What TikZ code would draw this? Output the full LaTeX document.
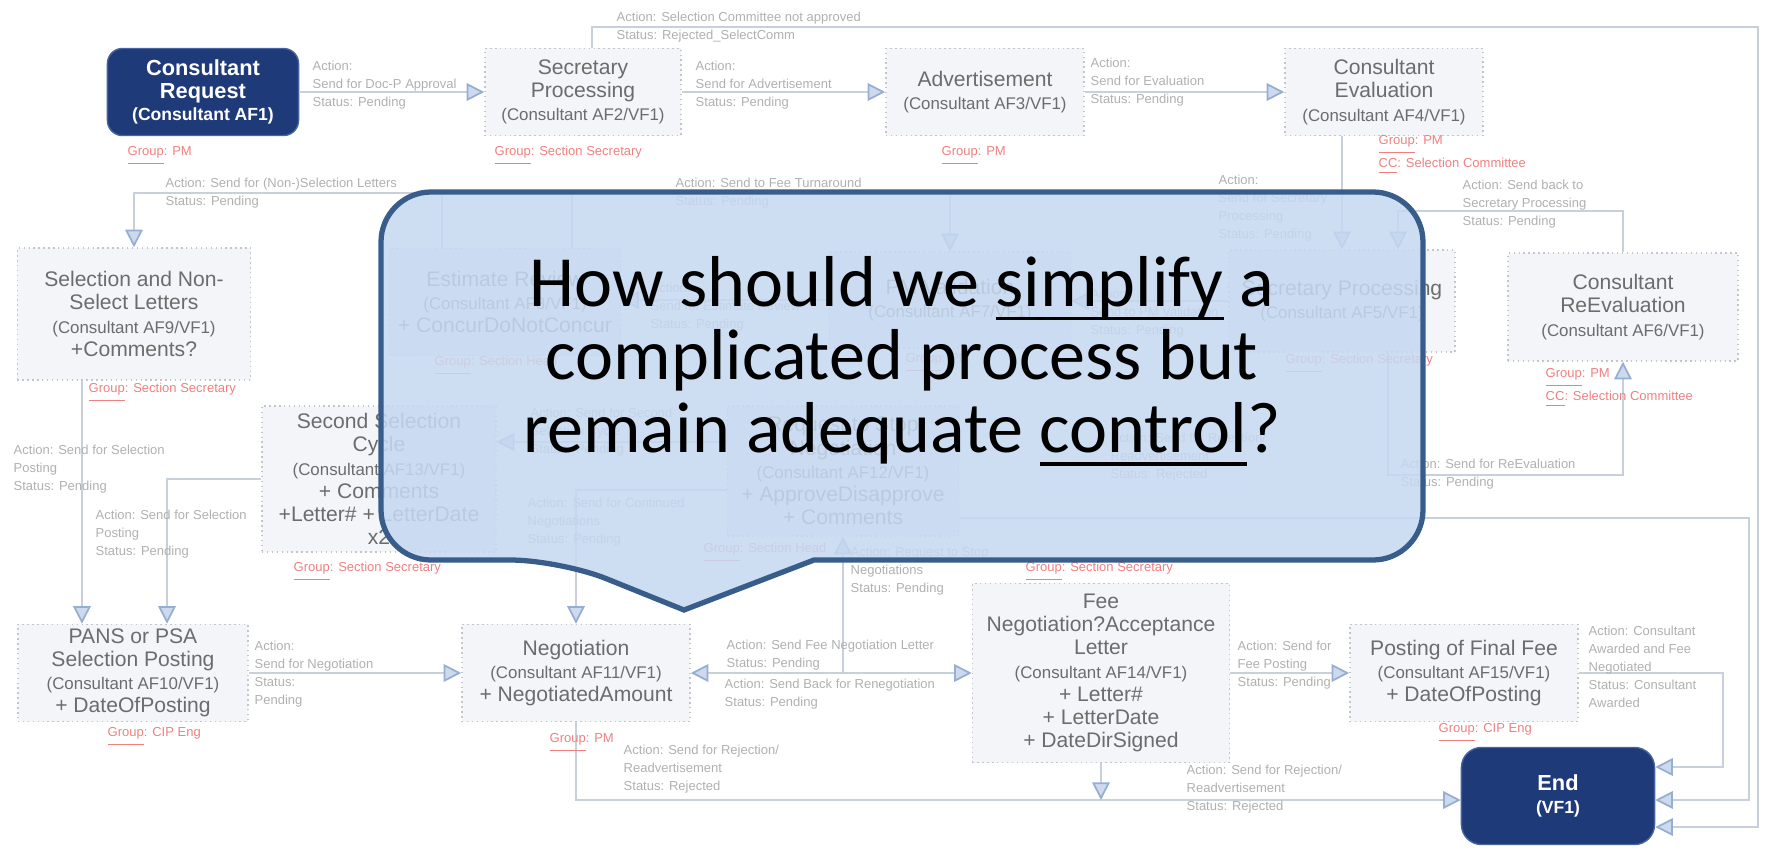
\documentclass[tikz,border=0pt]{standalone}
\usepackage{fontspec}
\setmainfont{Liberation Sans}
\newfontfamily\callfont{Carlito}
\usepackage{xcolor}
\usepackage{tikz}
\usetikzlibrary{arrows.meta}
\definecolor{boxtext}{RGB}{108,108,108}
\definecolor{boxline}{RGB}{196,198,204}
\definecolor{boxfill}{RGB}{243,245,248}
\definecolor{acttext}{RGB}{176,176,176}
\definecolor{grptext}{RGB}{240,128,128}
\definecolor{linecol}{RGB}{200,208,220}
\definecolor{tipcol}{RGB}{150,174,210}
\definecolor{tipfill}{RGB}{205,218,238}
\definecolor{navy}{RGB}{30,58,120}
\definecolor{navyline}{RGB}{70,100,160}
\definecolor{callfill}{RGB}{198,216,240}
\definecolor{callline}{RGB}{56,93,138}
\newcommand{\cons}[1]{{\fontsize{4.8}{6.6}\selectfont(Consultant #1/VF1)}}
\newcommand{\grpof}[1]{\underline{Group}: #1}
\newlength{\undrwd}
\newcommand{\undr}[1]{\settowidth{\undrwd}{#1}\rlap{\rule[-3.8pt]{\undrwd}{0.9pt}}#1}

\begin{document}
\begin{tikzpicture}[x=0.01cm,y=-0.01cm]
\tikzset{
  box/.style={draw=boxline, densely dotted, fill=boxfill, text=boxtext, align=center,
    inner sep=1pt, font=\fontsize{6}{6.6}\selectfont},
  dark/.style={draw=navyline, fill=navy, rounded corners=0.15cm, text=white, align=center,
    inner sep=1pt, font=\bfseries\fontsize{6.2}{6.4}\selectfont},
  act/.style={anchor=west, align=left, text=acttext, inner sep=0pt, font=\fontsize{3.7}{5.1}\selectfont},
  grp/.style={anchor=west, align=left, text=grptext, inner sep=0pt, font=\fontsize{3.7}{5.1}\selectfont},
  ln/.style={draw=linecol, line width=0.5pt},
  call/.style={draw=callline, line width=1.5pt, fill=callfill, fill opacity=0.87},
  calltext/.style={align=center, font=\callfont\fontsize{20.5}{20.7}\selectfont},
  >={Triangle[length=5pt,width=5pt,color=tipcol,fill=tipfill]}
}
\useasboundingbox (0,0) rectangle (1768,857);

\node[dark, minimum width=1.91cm, minimum height=0.87cm] (req) at (203,92) {Consultant\\Request\\{\fontsize{5}{6.4}\selectfont(Consultant AF1)}};
\node[box, minimum width=1.96cm, minimum height=0.87cm] (sec1) at (583,92) {Secretary\\Processing\\\cons{AF2}};
\node[box, minimum width=1.98cm, minimum height=0.87cm] (adv) at (985,92) {Advertisement\\\cons{AF3}};
\node[box, minimum width=1.98cm, minimum height=0.87cm] (eval) at (1384,92) {Consultant\\Evaluation\\\cons{AF4}};
\node[box, minimum width=2.33cm, minimum height=1.32cm] (sel) at (134,314) {Selection and Non-\\Select Letters\\\cons{AF9}\\+Comments?};
\node[box, minimum width=2.31cm, minimum height=1.07cm] (est) at (505,302) {Estimate Review\\\cons{AF8}\\+ ConcurDoNotConcur};
\node[box, minimum width=2.41cm, minimum height=0.96cm] (pmv) at (950,300) {PM Validation\\\cons{AF7}};
\node[box, minimum width=2.26cm, minimum height=1.02cm] (sec2) at (1342,301) {Secretary Processing\\\cons{AF5}};
\node[box, minimum width=2.30cm, minimum height=1.08cm] (reev) at (1623,307) {Consultant\\ReEvaluation\\\cons{AF6}};
\node[box, minimum width=2.34cm, minimum height=1.46cm] (sel2) at (379,479) {Second Selection\\Cycle\\\cons{AF13}\\+ Comments\\+Letter\# + LetterDate\\x2};
\node[box, minimum width=2.31cm, minimum height=1.30cm] (stop) at (843,471) {Request to Stop\\Negotiation\\\cons{AF12}\\+ ApproveDisapprove\\+ Comments};
\node[box, minimum width=2.30cm, minimum height=0.97cm] (pans) at (133,673) {PANS or PSA\\Selection Posting\\\cons{AF10}\\+ DateOfPosting};
\node[box, minimum width=2.28cm, minimum height=0.97cm] (neg) at (576,673) {Negotiation\\\cons{AF11}\\+ NegotiatedAmount};
\node[box, minimum width=2.57cm, minimum height=1.79cm] (fee) at (1101,673) {Fee\\Negotiation?Acceptance\\Letter\\\cons{AF14}\\+ Letter\#\\+ LetterDate\\+ DateDirSigned};
\node[box, minimum width=2.28cm, minimum height=0.97cm] (post) at (1464,673) {Posting of Final Fee\\\cons{AF15}\\+ DateOfPosting};
\node[dark, minimum width=1.93cm, minimum height=0.97cm, rounded corners=0.2cm] (end) at (1558,796) {End\\{\fontsize{5}{6.4}\selectfont(VF1)}};

\coordinate (topR) at (1758,27);
\coordinate (s1) at ([xshift=-0.52cm]sel.south);
\coordinate (s2) at ([yshift=0.29cm]stop.west);
\coordinate (bot) at ([yshift=-0.04cm]end.west);
\draw[ln,->] (req) -- (sec1);
\draw[ln,->] (sec1) -- (adv);
\draw[ln,->] (adv) -- (eval);
\draw[ln,->] ([xshift=0.09cm]sec1.north) |- (topR) |- ([yshift=-0.31cm]end.east);
\draw[ln,->] ([xshift=-0.63cm]est.north) -- ++(0,-55) -| (sel.north);
\draw[ln,->] ([xshift=0.67cm]est.north) -- ++(0,-55) -| (pmv.north);
\draw[ln,->] (pmv.west) -- (pmv.west -| est.east);
\draw[ln,->] (sec2.west) -- (sec2.west -| pmv.east);
\draw[ln,->] (eval.south -| sec2.north) -- (sec2.north);
\draw[ln,->] (reev.north) -- ++(0,-41) -| ([xshift=0.56cm]sec2.north);
\draw[ln,->] ([xshift=0.46cm]sec2.south) -- ++(0,122) -| (reev.south);
\draw[ln,->] (s1) -- (s1 |- pans.north);
\draw[ln,->] (sel2.west) -| ([xshift=0.34cm]pans.north);
\draw[ln,->] (s2) -- (s2 -| sel2.east);
\draw[ln,->] ([yshift=-0.19cm]stop.west) -| (neg.north);
\draw[ln,->] (pans) -- (neg);
\draw[ln,<->] (neg) -- (fee);
\draw[ln,->] (neg.east -| stop.south) -- (stop.south);
\draw[ln,->] (fee) -- (post);
\draw[ln,->] (post.east) -- ++(144,0) |- ([yshift=0.29cm]end.east);
\draw[ln,->] ([yshift=-0.47cm]stop.east) -- ++(790,0) |- ([yshift=-0.04cm]end.east);
\draw[ln,->] (neg.south) |- (bot);
\draw[ln,->] (fee.south) -- (fee.south |- bot);

\node[act] (a1) at (312,85) {Action:\\Send for Doc-P Approval\\Status: Pending};
\node[act] (a2) at (695,85) {Action:\\Send for Advertisement\\Status: Pending};
\node[act] (a3) at (1090,82) {Action:\\Send for Evaluation\\Status: Pending};
\node[act] (a4) at (616,27) {Action: Selection Committee not approved\\Status: Rejected\_SelectComm};
\node[act] (a5) at (165,193) {Action: Send for (Non-)Selection Letters\\Status: Pending};
\node[act] (a6) at (675,193) {Action: Send to Fee Turnaround\\Status: Pending};
\node[act] (a7) at (650,307) {Action:\\Send for Estimate Review\\Status: Pending};
\node[act] (a8) at (1090,313) {Action:\\Send to PM Validation\\Status: Pending};
\node[act] (a9) at (1218,208) {Action:\\Send for Secretary\\Processing\\Status: Pending};
\node[act] (a10) at (1462,204) {Action: Send back to\\Secretary Processing\\Status: Pending};
\node[act] (a11) at (1400,474) {Action: Send for ReEvaluation\\Status: Pending};
\node[act] (a12) at (13,469) {Action: Send for Selection\\Posting\\Status: Pending};
\node[act] (a13) at (95,534) {Action: Send for Selection\\Posting\\Status: Pending};
\node[act] (a14) at (530,432) {Action: Send for Second\\Selection Cycle\\Status: Pending};
\node[act] (a15) at (527,522) {Action: Send for Continued\\Negotiations\\Status: Pending};
\node[act] (a16) at (254,674) {Action:\\Send for Negotiation\\Status:\\Pending};
\node[act] (a17) at (726,655) {Action: Send Fee Negotiation Letter\\Status: Pending};
\node[act] (a18) at (724,694) {Action: Send Back for Renegotiation\\Status: Pending};
\node[act] (a19) at (850,571) {Action: Request to Stop\\Negotiations\\Status: Pending};
\node[act] (a20) at (1237,665) {Action: Send for\\Fee Posting\\Status: Pending};
\node[act] (a21) at (1588,667) {Action: Consultant\\Awarded and Fee\\Negotiated\\Status: Consultant\\Awarded};
\node[act] (a22) at (1110,457) {Action: Send for Rejection/\\Readvertisement\\Status: Rejected};
\node[act] (a23) at (623,769) {Action: Send for Rejection/\\Readvertisement\\Status: Rejected};
\node[act] (a24) at (1186,789) {Action: Send for Rejection/\\Readvertisement\\Status: Rejected};

\node[grp] (g1) at (127,156) {\grpof{PM}};
\node[grp] (g2) at (494,156) {\grpof{Section Secretary}};
\node[grp] (g3) at (941,156) {\grpof{PM}};
\node[grp] (g4) at (1378,155) {\grpof{PM}\\\underline{CC}: Selection Committee};
\node[grp] (g5) at (88,393) {\grpof{Section Secretary}};
\node[grp] (g6) at (434,366) {\grpof{Section Head}};
\node[grp] (g7) at (905,363) {\grpof{PM}};
\node[grp] (g8) at (1285,364) {\grpof{Section Secretary}};
\node[grp] (g9) at (1545,388) {\grpof{PM}\\\underline{CC}: Selection Committee};
\node[grp] (g10) at (293,572) {\grpof{Section Secretary}};
\node[grp] (g11) at (703,553) {\grpof{Section Head}};
\node[grp] (g12) at (107,737) {\grpof{CIP Eng}};
\node[grp] (g13) at (549,743) {\grpof{PM}};
\node[grp] (g14) at (1025,572) {\grpof{Section Secretary}};
\node[grp] (g15) at (1438,733) {\grpof{CIP Eng}};

\draw[call] (1000,560) [rounded corners=0.5cm] -- (1423,560) -- (1423,192) -- (381,192) -- (381,560) -- (560,560) [sharp corners] -- (684,610) -- (814,560) -- cycle;
\node[calltext] (q) at (902,361) {How should we \undr{simplify} a\\complicated process but\\remain adequate \undr{control}?};
\end{tikzpicture}
\end{document}
